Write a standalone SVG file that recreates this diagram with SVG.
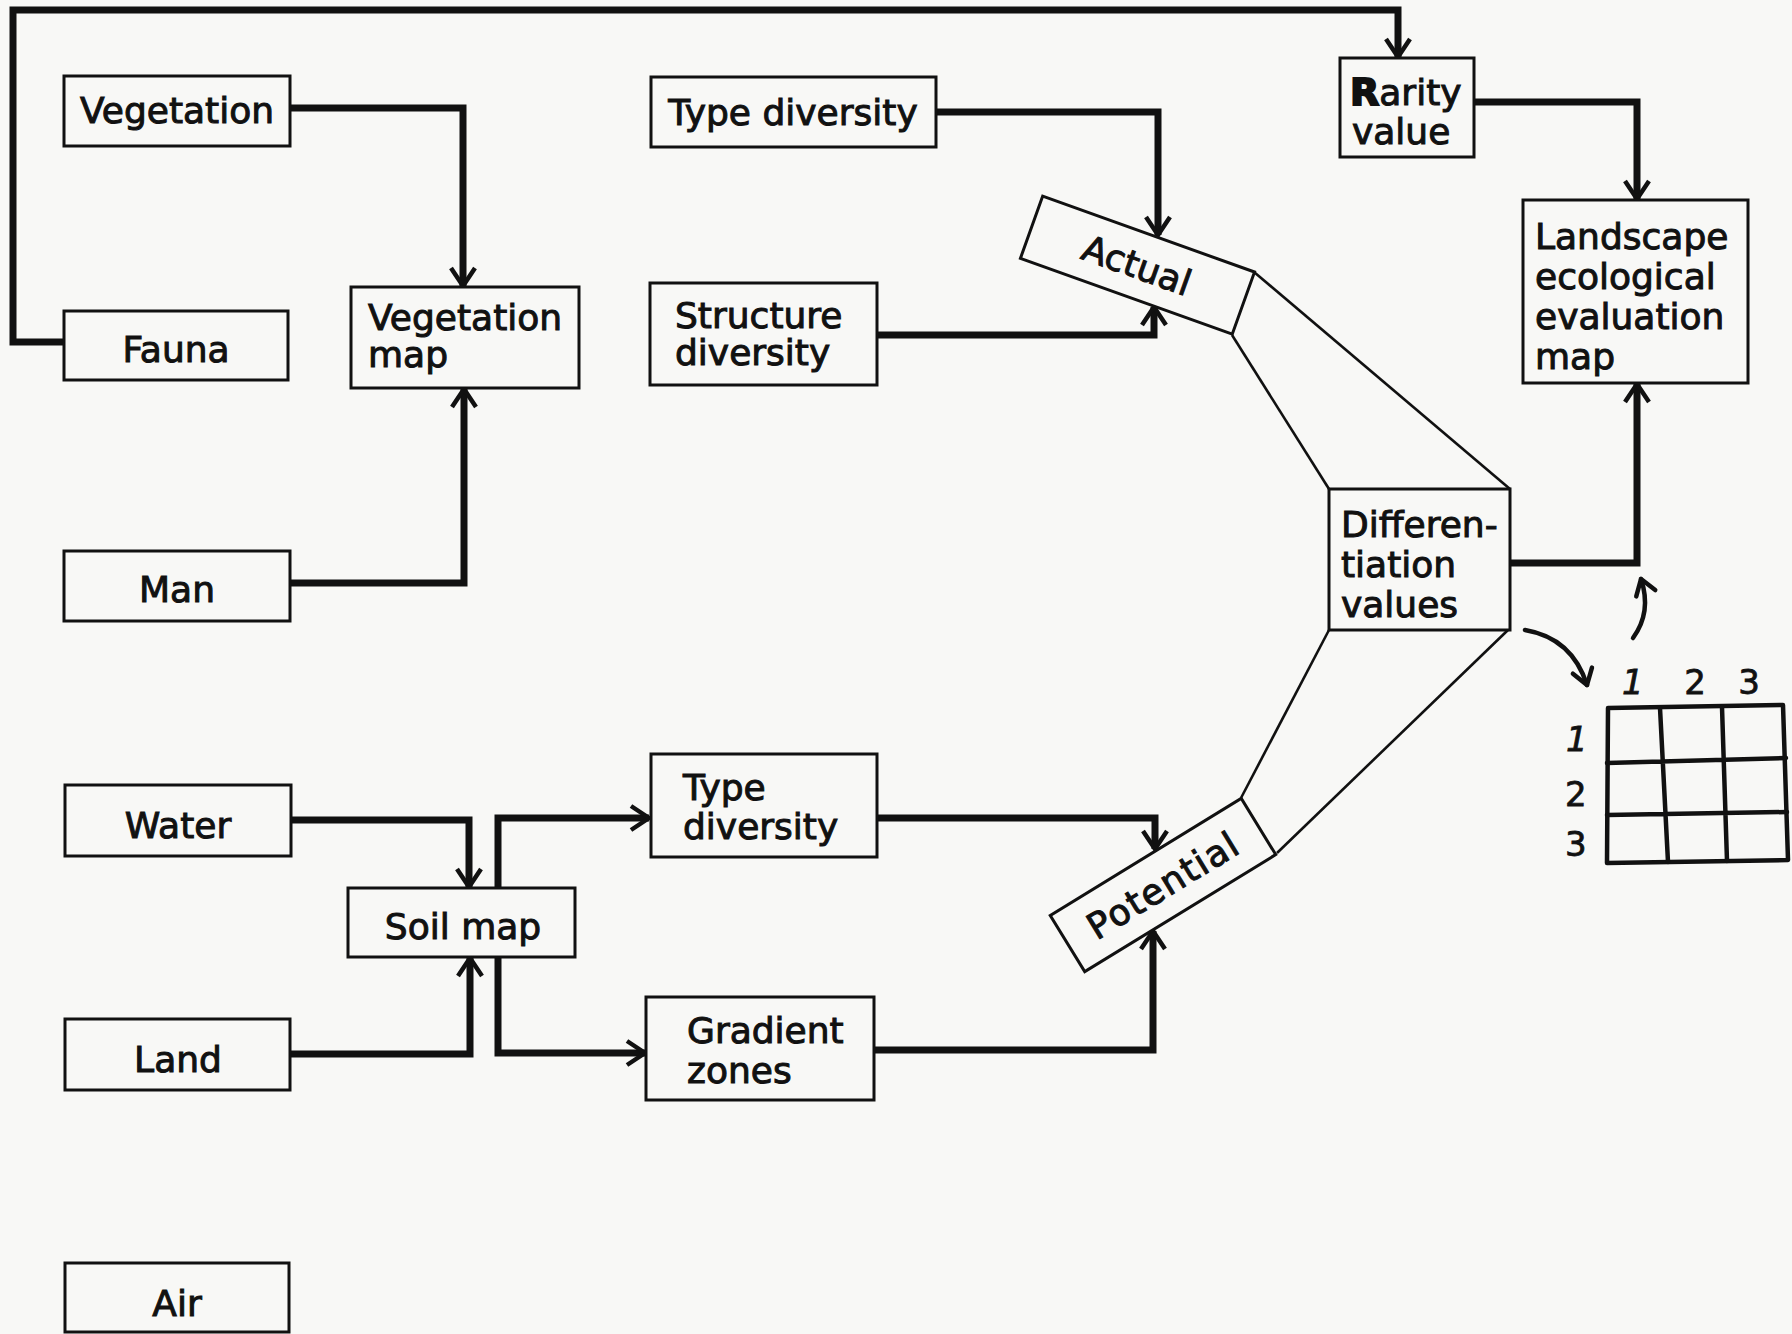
<svg xmlns="http://www.w3.org/2000/svg" width="1792" height="1334" viewBox="0 0 1792 1334">
  <style>
    .box { fill: #f8f8f6; stroke: #111; stroke-width: 3; }
    .lbl { font-family: "DejaVu Sans", "Liberation Sans", sans-serif; font-size: 36px; fill: #111; stroke: #111; stroke-width: 1; }
    .mid { text-anchor: middle; }
    .conn { fill: none; stroke: #111; stroke-width: 7; stroke-linejoin: miter; }
    .thin { fill: none; stroke: #111; stroke-width: 2.6; }
    .hand { fill: none; stroke: #111; stroke-width: 4.5; stroke-linecap: round; stroke-linejoin: round; }
    .digit { font-family: "DejaVu Sans", "Liberation Sans", sans-serif; font-size: 34px; fill: #111; stroke: #111; stroke-width: 0.8; }
  </style>
  <defs>
    <marker id="arr" viewBox="-22 -15 26 30" markerUnits="userSpaceOnUse" markerWidth="26" markerHeight="30" refX="0" refY="0" orient="auto">
      <path d="M-18,-12 L0,0 L-18,12" fill="none" stroke="#111" stroke-width="4.5"/>
    </marker>
    <marker id="arrs" viewBox="-18 -13 22 26" markerUnits="userSpaceOnUse" markerWidth="22" markerHeight="26" refX="0" refY="0" orient="auto">
      <path d="M-15,-10 L0,0 L-15,10" fill="none" stroke="#111" stroke-width="4.5" stroke-linecap="round" stroke-linejoin="round"/>
    </marker>
  </defs>
  <rect x="0" y="0" width="1792" height="1334" fill="#f8f8f6"/>

  <g id="connectors">
    <path class="conn" d="M64,342 H13 V10 H1398 V57" marker-end="url(#arr)"/>
    <path class="conn" d="M290,108 H463 V286" marker-end="url(#arr)"/>
    <path class="conn" d="M290,583 H464 V389" marker-end="url(#arr)"/>
    <path class="conn" d="M936,112 H1158 V235" marker-end="url(#arr)"/>
    <path class="conn" d="M877,335 H1154 V307" marker-end="url(#arr)"/>
    <path class="conn" d="M291,820 H469 V887" marker-end="url(#arr)"/>
    <path class="conn" d="M290,1054 H470 V958" marker-end="url(#arr)"/>
    <path class="conn" d="M498,888 V818 H649" marker-end="url(#arr)"/>
    <path class="conn" d="M498,957 V1053 H645" marker-end="url(#arr)"/>
    <path class="conn" d="M877,818 H1155 V849" marker-end="url(#arr)"/>
    <path class="conn" d="M874,1050 H1153 V931" marker-end="url(#arr)"/>
    <path class="conn" d="M1474,102 H1637 V199" marker-end="url(#arr)"/>
    <path class="conn" d="M1510,563 H1637 V384" marker-end="url(#arr)"/>
    <path class="hand" d="M1633,638 Q1652,612 1641,579" marker-end="url(#arrs)"/>
    <path class="hand" d="M1525,630 Q1572,638 1587,685" marker-end="url(#arrs)"/>
  </g>

  <g id="funnel">
    <path class="thin" d="M1254,272 L1510,489"/>
    <path class="thin" d="M1232,335 L1329,489"/>
    <path class="thin" d="M1329,630 L1241,798"/>
    <path class="thin" d="M1508,630 L1277,853"/>
  </g>

  <g id="vegetation">
    <rect class="box" x="64" y="76" width="226" height="70"/>
    <text class="lbl mid" x="177" y="123">Vegetation</text>
  </g>
  <g id="fauna">
    <rect class="box" x="64" y="311" width="224" height="69"/>
    <text class="lbl mid" x="176" y="362">Fauna</text>
  </g>
  <g id="man">
    <rect class="box" x="64" y="551" width="226" height="70"/>
    <text class="lbl mid" x="177" y="602">Man</text>
  </g>
  <g id="water">
    <rect class="box" x="65" y="785" width="226" height="71"/>
    <text class="lbl mid" x="178" y="838">Water</text>
  </g>
  <g id="land">
    <rect class="box" x="65" y="1019" width="225" height="71"/>
    <text class="lbl mid" x="178" y="1072">Land</text>
  </g>
  <g id="air">
    <rect class="box" x="65" y="1263" width="224" height="69"/>
    <text class="lbl mid" x="177" y="1316">Air</text>
  </g>
  <g id="vegetation-map">
    <rect class="box" x="351" y="287" width="228" height="101"/>
    <text class="lbl" x="368" y="330">Vegetation</text>
    <text class="lbl" x="368" y="367">map</text>
  </g>
  <g id="soil-map">
    <rect class="box" x="348" y="888" width="227" height="69"/>
    <text class="lbl mid" x="463" y="939">Soil map</text>
  </g>
  <g id="type-diversity-1">
    <rect class="box" x="651" y="77" width="285" height="70"/>
    <text class="lbl mid" x="793" y="125">Type diversity</text>
  </g>
  <g id="structure-diversity">
    <rect class="box" x="650" y="283" width="227" height="102"/>
    <text class="lbl" x="675" y="328">Structure</text>
    <text class="lbl" x="675" y="365">diversity</text>
  </g>
  <g id="type-diversity-2">
    <rect class="box" x="651" y="754" width="226" height="103"/>
    <text class="lbl" x="683" y="800">Type</text>
    <text class="lbl" x="683" y="839">diversity</text>
  </g>
  <g id="gradient-zones">
    <rect class="box" x="646" y="997" width="228" height="103"/>
    <text class="lbl" x="687" y="1043">Gradient</text>
    <text class="lbl" x="687" y="1083">zones</text>
  </g>
  <g id="actual" transform="translate(1137,265) rotate(19.7)">
    <rect class="box" x="-112" y="-33" width="225" height="66"/>
    <text class="lbl mid" x="0" y="13">Actual</text>
  </g>
  <g id="potential" transform="translate(1163,885) rotate(-31.5)">
    <rect class="box" x="-112" y="-33" width="224" height="66"/>
    <text class="lbl mid" x="0" y="13" letter-spacing="1.5">Potential</text>
  </g>
  <g id="differentiation-values">
    <rect class="box" x="1329" y="489" width="181" height="141"/>
    <text class="lbl" x="1341" y="537">Differen-</text>
    <text class="lbl" x="1341" y="577">tiation</text>
    <text class="lbl" x="1341" y="617">values</text>
  </g>
  <g id="rarity-value">
    <rect class="box" x="1340" y="58" width="134" height="99"/>
    <text class="lbl" x="1350" y="105"><tspan font-weight="bold" font-size="38" stroke-width="2">R</tspan>arity</text>
    <text class="lbl" x="1352" y="144">value</text>
  </g>
  <g id="landscape-map">
    <rect class="box" x="1523" y="200" width="225" height="183"/>
    <text class="lbl" x="1535" y="249">Landscape</text>
    <text class="lbl" x="1535" y="289">ecological</text>
    <text class="lbl" x="1535" y="329">evaluation</text>
    <text class="lbl" x="1535" y="369">map</text>
  </g>
  <g id="matrix">
    <path class="hand" d="M1608,708 L1783,705 L1788,860 L1607,863 Z"/>
    <path class="hand" d="M1660,708 L1668,862 M1722,707 L1727,861 M1607,763 L1786,758 M1607,815 L1787,812"/>
    <text class="digit" x="1622" y="694" font-style="italic">1</text>
    <text class="digit mid" x="1695" y="694">2</text>
    <text class="digit mid" x="1749" y="694">3</text>
    <text class="digit" x="1566" y="751" font-style="italic">1</text>
    <text class="digit" x="1565" y="806">2</text>
    <text class="digit" x="1565" y="856">3</text>
  </g>
</svg>
